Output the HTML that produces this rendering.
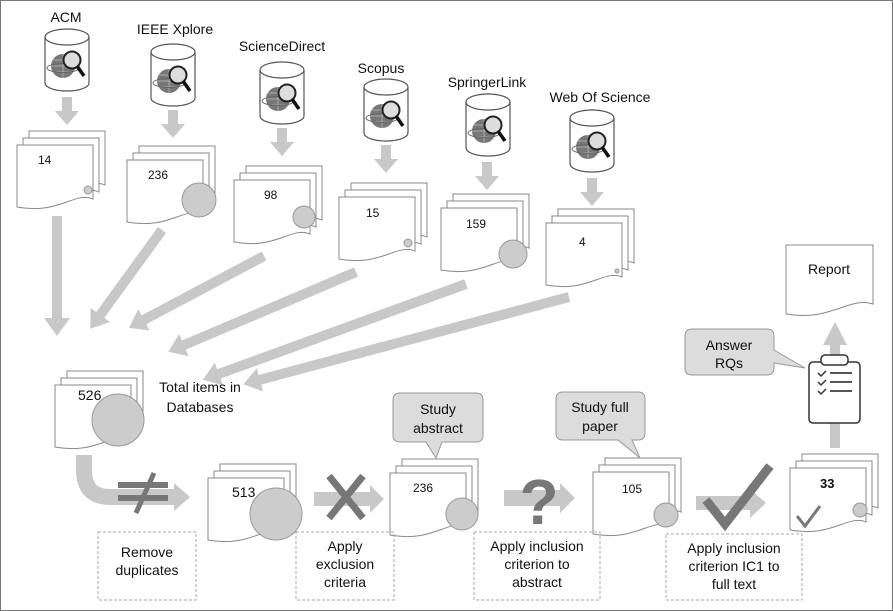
<!DOCTYPE html>
<html><head><meta charset="utf-8"><style>
html,body{margin:0;padding:0;background:#fff}
svg{display:block}
text{font-family:"Liberation Sans",sans-serif;fill:#111}
</style></head><body>
<svg width="893" height="611" viewBox="0 0 893 611" xmlns="http://www.w3.org/2000/svg">
<defs>
<path id="pg" d="M0,0 H76 V54 C58,46 42,70 0,62 Z" fill="#fff" stroke="#888" stroke-width="1"/>
<g id="stk">
<use href="#pg" x="12" y="-14"/><use href="#pg" x="6" y="-7"/><use href="#pg"/>
</g>
<g id="cyl">
<path d="M0,8 V54 A22,8 0 0 0 44,54 V8" fill="#fff" stroke="#555" stroke-width="1.2"/>
<ellipse cx="22" cy="8" rx="22" ry="8" fill="#fff" stroke="#555" stroke-width="1.2"/>
<circle cx="18" cy="37" r="12" fill="#777"/>
<path d="M6,37 H30 M18,25 V49 M8,31 H28 M8,43 H28" stroke="#aaa" stroke-width="1"/>
<ellipse cx="18" cy="39" rx="16" ry="4.5" fill="none" stroke="#666" stroke-width="1"/>
<circle cx="27" cy="31" r="8.5" fill="#ddd" stroke="#222" stroke-width="2"/>
<line x1="32" y1="37" x2="39" y2="47" stroke="#111" stroke-width="3.5"/>
</g>
<g id="dar"><polygon points="-5,0 5,0 5,14 12,14 0,28 -12,14 -5,14" fill="#c8c8c8"/></g>
</defs>
<rect x="0.5" y="0.5" width="892" height="610" fill="#fff" stroke="#777"/>

<g font-size="14" text-anchor="middle">
<text x="66" y="22">ACM</text>
<text x="175" y="34">IEEE Xplore</text>
<text x="282" y="51">ScienceDirect</text>
<text x="381" y="73">Scopus</text>
<text x="487" y="87">SpringerLink</text>
<text x="600" y="102">Web Of Science</text>
</g>

<use href="#cyl" x="45" y="29"/>
<use href="#cyl" x="151" y="44"/>
<use href="#cyl" x="260" y="62"/>
<use href="#cyl" x="364" y="79"/>
<use href="#cyl" x="466" y="94"/>
<use href="#cyl" x="570" y="110"/>

<use href="#dar" x="67" y="97"/>
<use href="#dar" x="173" y="110"/>
<use href="#dar" x="282" y="128"/>
<use href="#dar" x="386" y="145"/>
<use href="#dar" x="487" y="162"/>
<use href="#dar" x="592" y="178"/>

<g fill="#c8c8c8">
<polygon points="52,216 62,216 62,318 70,318 57,336 44,318 52,318"/>
<polygon transform="translate(162,230) rotate(126)" points="0,-5 105,-5 105,-12 122,0 105,12 105,5 0,5"/>
<polygon transform="translate(264,256) rotate(152)" points="0,-5 136,-5 136,-12 153,0 136,12 136,5 0,5"/>
<polygon transform="translate(356,272) rotate(157)" points="0,-5 187,-5 187,-12 204,0 187,12 187,5 0,5"/>
<polygon transform="translate(466,284) rotate(160)" points="0,-5 263,-5 263,-12 280,0 263,12 263,5 0,5"/>
<polygon transform="translate(569,297) rotate(165)" points="0,-5 320,-5 320,-12 337,0 320,12 320,5 0,5"/>
</g>

<use href="#stk" x="17" y="145"/><text x="38" y="164" font-size="12">14</text><circle cx="88" cy="190" r="4" fill="#ccc" stroke="#999"/>
<use href="#stk" x="127" y="160"/><text x="148" y="179" font-size="12">236</text><circle cx="199" cy="200" r="17" fill="#ccc" stroke="#999"/>
<use href="#stk" x="234" y="180"/><text x="264" y="199" font-size="12">98</text><circle cx="304" cy="217" r="11" fill="#ccc" stroke="#999"/>
<use href="#stk" x="339" y="197"/><text x="366" y="217" font-size="12">15</text><circle cx="408" cy="243" r="4" fill="#ccc" stroke="#999"/>
<use href="#stk" x="441" y="208"/><text x="466" y="228" font-size="12">159</text><circle cx="513" cy="254" r="14" fill="#ccc" stroke="#999"/>
<use href="#stk" x="546" y="223"/><text x="579" y="246" font-size="12">4</text><circle cx="617" cy="271" r="2" fill="#ccc" stroke="#999"/>

<use href="#stk" x="55" y="385"/><text x="78" y="400" font-size="14">526</text><circle cx="118" cy="420" r="26" fill="#ccc" stroke="#999"/>
<text x="200" y="392" font-size="14" text-anchor="middle">Total items in</text>
<text x="200" y="412" font-size="14" text-anchor="middle">Databases</text>

<path d="M84,455 V470 Q84,497 110,497 H176" fill="none" stroke="#c8c8c8" stroke-width="16"/>
<polygon points="174,483 190,497 174,511" fill="#c8c8c8"/>
<g stroke="#777" stroke-width="6"><line x1="118" y1="485" x2="168" y2="485"/><line x1="118" y1="498" x2="168" y2="498"/><line x1="154" y1="473" x2="136" y2="513" stroke-width="5"/></g>

<use href="#stk" x="208" y="478"/><text x="232" y="497" font-size="14">513</text><circle cx="276" cy="514" r="26" fill="#ccc" stroke="#999"/>
<polygon points="314,492 370,492 370,485 384,499 370,513 370,506 314,506" fill="#c8c8c8"/>
<g stroke="#777" stroke-width="7"><line x1="329" y1="476" x2="363" y2="518"/><line x1="363" y1="476" x2="329" y2="518"/></g>

<use href="#stk" x="390" y="473"/><text x="413" y="492" font-size="12">236</text><circle cx="462" cy="514" r="16" fill="#ccc" stroke="#999"/>
<polygon points="504,490 560,490 560,483 575,498 560,513 560,506 504,506" fill="#c8c8c8"/>
<text x="539" y="524" font-size="64" font-weight="bold" text-anchor="middle" style="fill:#777">?</text>

<use href="#stk" x="593" y="472"/><text x="622" y="493" font-size="12">105</text><circle cx="666" cy="515" r="12" fill="#ccc" stroke="#999"/>
<polygon points="696,496 750,496 750,489 766,503 750,518 750,510 696,510" fill="#c8c8c8"/>
<path d="M706,500 L725,524 L770,466" fill="none" stroke="#777" stroke-width="9"/>

<use href="#stk" x="790" y="468"/><text x="820" y="488" font-size="13" font-weight="bold">33</text><circle cx="860" cy="510" r="7" fill="#ccc" stroke="#999"/>
<path d="M797,516 L805,526 L820,506" fill="none" stroke="#777" stroke-width="3"/>

<path d="M786,245 H873 V304 C850,296 830,322 786,314 Z" fill="#fff" stroke="#888"/>
<text x="829" y="274" font-size="14" text-anchor="middle">Report</text>
<polygon points="830,448 840,448 840,345 847,345 835,322 823,345 830,345" fill="#c8c8c8"/>
<rect x="809" y="362" width="51" height="61" rx="4" fill="#fff" stroke="#333" stroke-width="1.5"/>
<rect x="821" y="355" width="27" height="10" rx="4" fill="#fff" stroke="#333" stroke-width="1.5"/>
<g stroke="#555" stroke-width="2"><line x1="830" y1="373" x2="852" y2="373"/><line x1="830" y1="382" x2="852" y2="382"/><line x1="830" y1="391" x2="852" y2="391"/></g>
<g stroke="#333" stroke-width="1.5" fill="none"><path d="M818,373 l3,3 l5,-5"/><path d="M818,382 l3,3 l5,-5"/><path d="M818,391 l3,3 l5,-5"/></g>

<g fill="#dcdcdc" stroke="#999">
<path d="M400,393 H476 Q483,393 483,400 V435 Q483,442 476,442 H442 L436,458 L426,442 H400 Q393,442 393,435 V400 Q393,393 400,393 Z"/>
<path d="M563,392 H638 Q645,392 645,399 V433 Q645,440 638,440 H632 L640,458 L618,440 H563 Q556,440 556,433 V399 Q556,392 563,392 Z"/>
<path d="M692,329 H767 Q774,329 774,336 V350 L805,368 L774,363 V368 Q774,375 767,375 H692 Q685,375 685,368 V336 Q685,329 692,329 Z"/>
</g>
<g font-size="14" text-anchor="middle">
<text x="438" y="414">Study</text><text x="438" y="433">abstract</text>
<text x="600" y="412">Study full</text><text x="600" y="431">paper</text>
<text x="729" y="350">Answer</text><text x="729" y="368">RQs</text>
</g>

<g fill="none" stroke="#aaa" stroke-dasharray="3,2">
<rect x="98" y="532" width="98" height="68"/>
<rect x="296" y="532" width="98" height="68"/>
<rect x="474" y="532" width="126" height="68"/>
<rect x="666" y="534" width="136" height="66"/>
</g>
<g font-size="14" text-anchor="middle">
<text x="147" y="557">Remove</text><text x="147" y="575">duplicates</text>
<text x="345" y="551">Apply</text><text x="345" y="569">exclusion</text><text x="345" y="587">criteria</text>
<text x="537" y="551">Apply inclusion</text><text x="537" y="569">criterion to</text><text x="537" y="587">abstract</text>
<text x="734" y="553">Apply inclusion</text><text x="734" y="571">criterion IC1 to</text><text x="734" y="589">full text</text>
</g>
</svg>
</body></html>
